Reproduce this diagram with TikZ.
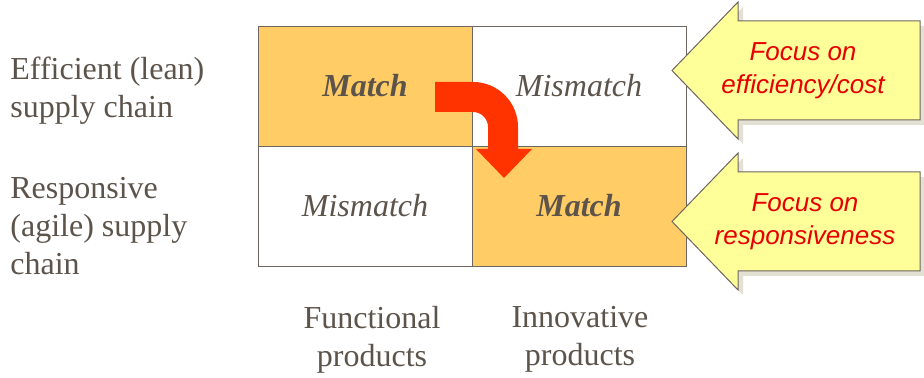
\documentclass[tikz,border=0pt]{standalone}
\usepackage{fontspec}
\setmainfont{Liberation Serif}
\setsansfont{Liberation Sans}
\usetikzlibrary{positioning}

\definecolor{matchfill}{HTML}{FFCC66}
\definecolor{gridgray}{HTML}{6E665E}
\definecolor{labelgray}{HTML}{5C534B}
\definecolor{focusfill}{HTML}{FFFF99}
\definecolor{focusred}{HTML}{E60000}
\definecolor{shadowgray}{HTML}{E3E0D4}
\definecolor{bendred}{HTML}{FF3300}

\tikzset{
  cell/.style={draw=gridgray, minimum width=107pt, minimum height=60pt,
    inner sep=0pt, outer sep=0pt, text=labelgray,
    font=\fontsize{16}{19}\selectfont\itshape},
  rowlabel/.style={anchor=north west, align=left, inner sep=0pt,
    text=labelgray, font=\fontsize{16}{19}\selectfont},
  collabel/.style={anchor=north, align=center, inner sep=0pt,
    text=labelgray, font=\fontsize{16}{19}\selectfont},
  focus/.style={align=center, inner sep=0pt, text=focusred,
    font=\sffamily\itshape\fontsize{13}{16.5}\selectfont},
  focusarrow/.style={fill=focusfill, draw=gridgray, line width=0.5pt},
}
\def\focusshape{(672,70.5) -- (738,2) -- (738,21) -- (920,21) -- (920,120)
  -- (738,120) -- (738,139) -- cycle}

\begin{document}
\begin{tikzpicture}[x=0.5pt,y=-0.5pt]
  \useasboundingbox (0,0) rectangle (924,378);

  % the 2x2 matrix
  \node[cell, fill=matchfill] (lean-func) at (365,86) {\textbf{Match}};
  \node[cell, right=0pt of lean-func] (lean-inno) {Mismatch};
  \node[cell, below=0pt of lean-func] (agile-func) {Mismatch};
  \node[cell, fill=matchfill, right=0pt of agile-func] (agile-inno) {\textbf{Match}};

  % row and column labels
  \node[rowlabel] (lean) at (10,57) {Efficient (lean)\\supply chain};
  \node[rowlabel] (agile) at (10,177) {Responsive\\(agile) supply\\chain};
  \node[collabel] (func) at (372,306) {Functional\\products};
  \node[collabel] (inno) at (580,306) {Innovative\\products};

  % bent arrow from one match to the other
  \fill[bendred] (435,82) -- (473,82) arc[start angle=-90, end angle=0, radius=45]
    -- (518,149) -- (532,149) -- (504,178) -- (476,149) -- (488,149) -- (488,127)
    arc[start angle=0, end angle=-90, radius=15] -- (435,112) -- cycle;

  % focus arrows
  \fill[shadowgray, shift={(5,5)}] \focusshape;
  \draw[focusarrow] \focusshape;
  \node[focus] (focus-cost) at (803,71) {Focus on\\efficiency/cost};

  \begin{scope}[shift={(0,151)}]
    \fill[shadowgray, shift={(5,5)}] \focusshape;
    \draw[focusarrow] \focusshape;
    \node[focus] (focus-resp) at (805,71) {Focus on\\responsiveness};
  \end{scope}
\end{tikzpicture}
\end{document}
